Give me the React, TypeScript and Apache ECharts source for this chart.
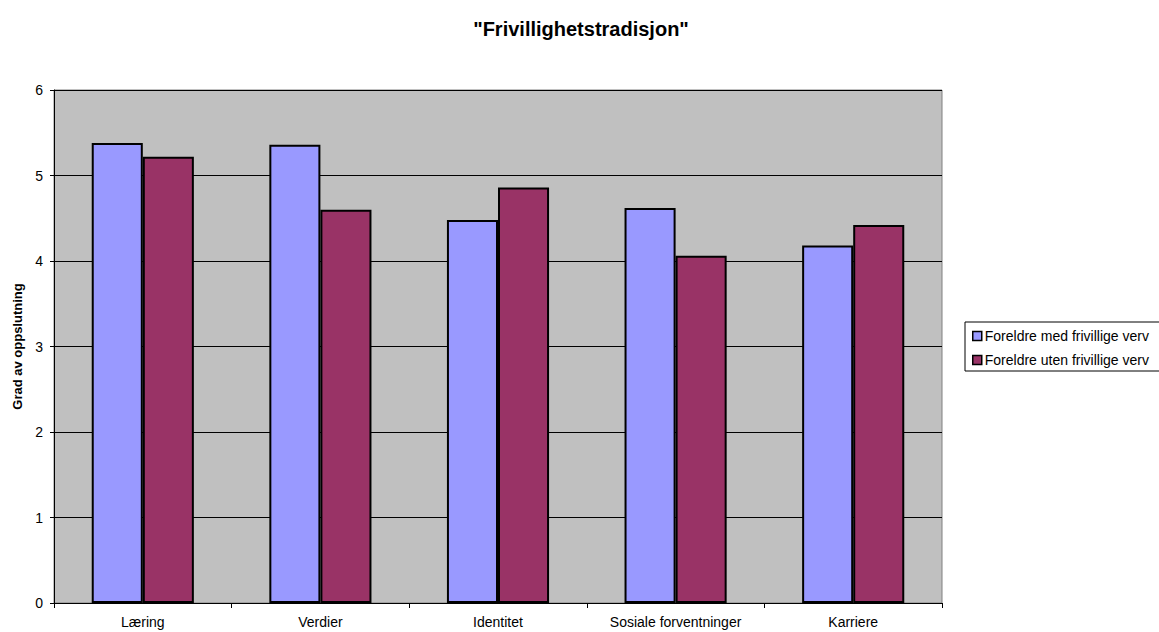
import React, { useEffect, useRef } from "react";
import * as echarts from "echarts";

const categories = ["Læring", "Verdier", "Identitet", "Sosiale forventninger", "Karriere"];
const seriesNames = ["Foreldre med frivillige verv", "Foreldre uten frivillige verv"];
const withVerv = [5.38, 5.36, 4.48, 4.62, 4.18];
const withoutVerv = [5.22, 4.6, 4.86, 4.06, 4.42];
const colors = ["#9999FF", "#993366"];

const FONT = "Arial, 'Liberation Sans', sans-serif";

export default function App() {
  const ref = useRef<HTMLDivElement>(null);

  useEffect(() => {
    if (!ref.current) return;
    const chart = echarts.init(ref.current, undefined, { renderer: "svg" });
    const barStyle = (c: string) => ({ color: c, borderColor: "#000", borderWidth: 2 });
    chart.setOption({
      animation: false,
      backgroundColor: "#fff",
      textStyle: { fontFamily: FONT, color: "#000" },
      title: {
        text: '"Frivillighetstradisjon"',
        left: 576,
        textAlign: "center",
        top: 14,
        textStyle: { fontFamily: FONT, fontSize: 20, fontWeight: "bold", color: "#000" },
      },
      legend: {
        orient: "vertical",
        left: 965,
        top: 322,
        width: 200,
        padding: [7, 30, 4, 7],
        itemGap: 10,
        itemWidth: 9,
        itemHeight: 9,
        icon: "rect",
        borderColor: "#000",
        borderWidth: 1,
        backgroundColor: "#fff",
        itemStyle: { borderColor: "#000", borderWidth: 1.5 },
        textStyle: { fontFamily: FONT, fontSize: 14, color: "#000", padding: [0, 0, 0, -2] },
        data: seriesNames,
      },
      grid: {
        left: 54,
        right: 217,
        top: 90,
        bottom: 29,
        show: true,
        backgroundColor: "#C0C0C0",
        borderColor: "#808080",
        borderWidth: 1,
      },
      xAxis: {
        type: "category",
        data: categories,
        axisLine: { lineStyle: { color: "#000", width: 1 } },
        axisTick: { show: true, length: 5, lineStyle: { color: "#000" } },
        axisLabel: { fontFamily: FONT, fontSize: 14, color: "#000", margin: 12 },
      },
      yAxis: {
        type: "value",
        min: 0,
        max: 6,
        interval: 1,
        name: "Grad av oppslutning",
        nameLocation: "middle",
        nameGap: 29,
        nameTextStyle: { fontFamily: FONT, fontSize: 13, fontWeight: "bold", color: "#000" },
        axisLine: { show: true, lineStyle: { color: "#000", width: 1 } },
        axisTick: { show: true, length: 4, lineStyle: { color: "#000" } },
        axisLabel: { fontFamily: FONT, fontSize: 14, color: "#000", margin: 11 },
        splitLine: { show: true, lineStyle: { color: "#000", width: 1 } },
      },
      series: [
        {
          name: seriesNames[0],
          type: "bar",
          data: withVerv,
          barGap: "0%",
          barCategoryGap: "42.5%",
          itemStyle: barStyle(colors[0]),
        },
        {
          name: seriesNames[1],
          type: "bar",
          data: withoutVerv,
          barGap: "0%",
          barCategoryGap: "42.5%",
          itemStyle: barStyle(colors[1]),
        },
      ],
    });
    return () => chart.dispose();
  }, []);

  return (
    <div
      ref={ref}
      style={{ position: "fixed", left: 0, top: 0, width: 1159, height: 632 }}
    />
  );
}
